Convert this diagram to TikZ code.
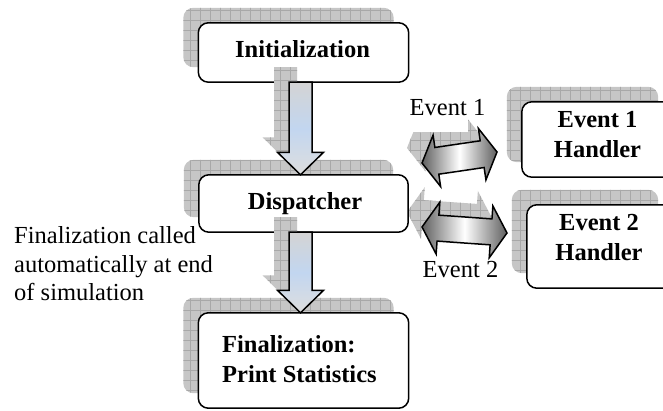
\documentclass[tikz,border=0pt]{standalone}
\usepackage{fontspec}
\setmainfont{Liberation Serif}
\usetikzlibrary{calc}

\definecolor{shadowgray}{RGB}{198,198,198}
\definecolor{gridgray}{RGB}{168,168,168}
\definecolor{shaftgray}{RGB}{212,212,212}
\definecolor{shaftblue}{RGB}{194,214,240}
\definecolor{tipgray}{RGB}{222,222,222}
\definecolor{endgray}{RGB}{95,95,95}

% grey grid-textured drop shadow clipped to a given path
\newcommand\hatchfill[1]{%
  \begin{scope}
    \clip #1;
    \fill[shadowgray] (-10,-10) rectangle (700,430);
    \foreach \g in {0,10,...,700}{\draw[gridgray,line width=0.5pt] (\g,-10) -- (\g,430);}
    \foreach \g in {0,10,...,430}{\draw[gridgray,line width=0.5pt] (-10,\g) -- (700,\g);}
  \end{scope}}

% double-headed block arrow between (<p>l) and (<p>r)
\newcommand\dblsetup[2]{%
  \coordinate (#1p) at ($(#1l)!#2!(#1r)$);
  \coordinate (#1q) at ($(#1r)!#2!(#1l)$);}
\newcommand\dblpath[3]{%
  (#1l) -- ($(#1p)!#2!90:(#1r)$) -- ($(#1p)!#3!90:(#1r)$)
  -- ($(#1q)!#3!90:(#1r)$) -- ($(#1q)!#2!90:(#1r)$) -- (#1r)
  -- ($(#1q)!#2!-90:(#1r)$) -- ($(#1q)!#3!-90:(#1r)$)
  -- ($(#1p)!#3!-90:(#1r)$) -- ($(#1p)!#2!-90:(#1r)$) -- cycle}

% downward block arrow from (<t>) to the tip (<b>)
\newcommand\downpath[2]{%
  ($(#1)+(-11.5,0)$) -- ($(#2)+(-11.5,-22.5)$) -- ($(#2)+(-23,-22.5)$)
  -- (#2) -- ($(#2)+(23,-22.5)$) -- ($(#2)+(11.5,-22.5)$)
  -- ($(#1)+(11.5,0)$) -- cycle}

\tikzset{
  box/.style={draw=black, line width=1.5pt, fill=white, rounded corners=10pt, inner sep=0pt},
  boxtext/.style={inner sep=0pt, font=\bfseries\fontsize{24.5pt}{30pt}\selectfont},
  plaintext/.style={inner sep=0pt, font=\fontsize{24.5pt}{28.5pt}\selectfont},
  downarrow/.style={draw=black, line width=1.5pt, line join=miter,
    top color=shaftgray, bottom color=tipgray, middle color=shaftblue},
  twoway/.style={draw=black, line width=1.5pt, line join=miter,
    left color=endgray, right color=endgray, middle color=white}
}

\begin{document}
\begin{tikzpicture}[x=1pt, y=-1pt]
\useasboundingbox (0,0) rectangle (663,411);

% box frames used as anchors (drawn later on top of their shadows)
\path
  (303.5,52.5) node[inner sep=0pt, minimum width=210pt, minimum height=59pt] (init) {}
  (303.5,203.5) node[inner sep=0pt, minimum width=209pt, minimum height=57pt] (disp) {}
  (303.5,360.5) node[inner sep=0pt, minimum width=210pt, minimum height=95pt] (fin) {}
  (597.5,139.5) node[inner sep=0pt, minimum width=151pt, minimum height=75pt] (ev1) {}
  (600,246.5) node[inner sep=0pt, minimum width=146pt, minimum height=83pt] (ev2) {};

% shadows of the boxes
\foreach \b in {init,disp,fin,ev1,ev2}{
  \hatchfill{[rounded corners=10pt] ($(\b.north west)+(-15,-15)$) rectangle ($(\b.south east)+(-15,-15)$)}
}

% two-way arrows between dispatcher and handlers
\coordinate (eal) at (422,163);
\coordinate (ear) at (497,152);
\coordinate (ebl) at (422,227);
\coordinate (ebr) at (507,233);
\coordinate (sal) at ($(eal)+(-15,-15)$);
\coordinate (sar) at ($(ear)+(-15,-15)$);
\coordinate (sbl) at ($(ebl)+(-15,-15)$);
\coordinate (sbr) at ($(ebr)+(-15,-15)$);
\dblsetup{ea}{15pt}
\dblsetup{eb}{16pt}
\dblsetup{sa}{15pt}
\dblsetup{sb}{16pt}

\hatchfill{\dblpath{sa}{26pt}{13.5pt}}
\hatchfill{\dblpath{sb}{26pt}{13pt}}
\fill[white] (405,96) rectangle (468,132);

% boxes
\draw[box] (init.north west) rectangle (init.south east);
\draw[box] (disp.north west) rectangle (disp.south east);
\draw[box] (fin.north west) rectangle (fin.south east);
\draw[box] (ev1.north west) rectangle (ev1.south east);
\draw[box] (ev2.north west) rectangle (ev2.south east);

\node[boxtext, anchor=base] (initt) at (302.5,58) {Initialization};
\node[boxtext, anchor=base] (dispt) at (305,210) {Dispatcher};
\node[boxtext, anchor=north west, align=left] (fint) at (222,335.5) {Finalization:\\Print Statistics};
\node[boxtext, anchor=north, align=center] (ev1t) at (597.5,111.5) {Event 1\\Handler};
\node[boxtext, anchor=north, align=center] (ev2t) at (599,214.5) {Event 2\\Handler};

% downward arrows
\coordinate (dat) at ([xshift=-3pt]init.south);
\coordinate (dab) at ([xshift=-3pt]disp.north);
\coordinate (dbt) at ([xshift=-3pt]disp.south);
\coordinate (dbb) at ([xshift=-3pt]fin.north);
\coordinate (sat) at ($(dat)+(-15,-15)$);
\coordinate (sab) at ($(dab)+(-15,-15)$);
\coordinate (sbt) at ($(dbt)+(-15,-15)$);
\coordinate (sbb) at ($(dbb)+(-15,-15)$);
\hatchfill{\downpath{sat}{sab}}
\hatchfill{\downpath{sbt}{sbb}}
\path[downarrow] \downpath{dat}{dab};
\path[downarrow] \downpath{dbt}{dbb};

\path[twoway] \dblpath{ea}{26pt}{13.5pt};
\path[twoway] \dblpath{eb}{26pt}{13pt};

% labels
\node[plaintext, anchor=base] (lab1) at (447.5,115.5) {Event 1};
\node[plaintext, anchor=base] (lab2) at (460.5,278) {Event 2};
\node[plaintext, anchor=north west, align=left] (note) at (14,226.5)
  {Finalization called\\automatically at end\\of simulation};
\end{tikzpicture}
\end{document}
